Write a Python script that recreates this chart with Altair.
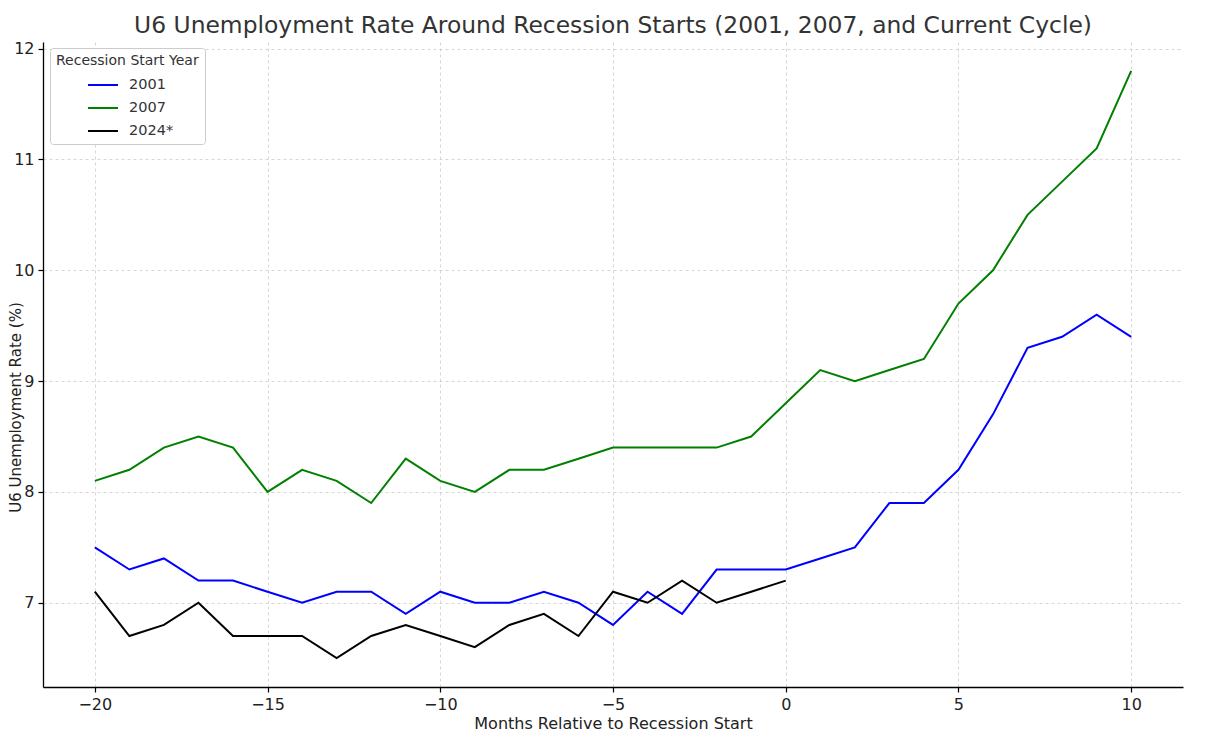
import altair as alt
import pandas as pd

months = list(range(-20, 11))
u6_2001 = [7.5, 7.3, 7.4, 7.2, 7.2, 7.1, 7.0, 7.1, 7.1, 6.9, 7.1, 7.0, 7.0, 7.1, 7.0, 6.8,
           7.1, 6.9, 7.3, 7.3, 7.3, 7.4, 7.5, 7.9, 7.9, 8.2, 8.7, 9.3, 9.4, 9.6, 9.4]
u6_2007 = [8.1, 8.2, 8.4, 8.5, 8.4, 8.0, 8.2, 8.1, 7.9, 8.3, 8.1, 8.0, 8.2, 8.2, 8.3, 8.4,
           8.4, 8.4, 8.4, 8.5, 8.8, 9.1, 9.0, 9.1, 9.2, 9.7, 10.0, 10.5, 10.8, 11.1, 11.8]
u6_2024 = [7.1, 6.7, 6.8, 7.0, 6.7, 6.7, 6.7, 6.5, 6.7, 6.8, 6.7, 6.6, 6.8, 6.9, 6.7, 7.1,
           7.0, 7.2, 7.0, 7.1, 7.2]
series_names = ["2001", "2007", "2024*"]
series_colors = ["#0000ff", "#008000", "#000000"]

rows = []
for name, vals in zip(series_names, [u6_2001, u6_2007, u6_2024]):
    for i, v in enumerate(vals):
        rows.append({"month": months[i], "rate": v, "year": name})
df = pd.DataFrame(rows)

font = "DejaVu Sans"

chart = alt.Chart(df).mark_line(strokeWidth=2, clip=True).encode(
    x=alt.X("month:Q",
            scale=alt.Scale(domain=[-21.5, 11.5], nice=False, zero=False),
            axis=alt.Axis(values=[-20, -15, -10, -5, 0, 5, 10], title="Months Relative to Recession Start",
                          titlePadding=3)),
    y=alt.Y("rate:Q",
            scale=alt.Scale(domain=[6.24, 12.06], nice=False, zero=False),
            axis=alt.Axis(values=[7, 8, 9, 10, 11, 12], title="U6 Unemployment Rate (%)",
                          titleX=-23, titleY=365, titleBaseline="alphabetic", titleAngle=-90,
                          titleFontSize=15)),
    color=alt.Color("year:N",
                    scale=alt.Scale(domain=series_names, range=series_colors),
                    legend=alt.Legend(title="Recession Start Year", orient="none", legendX=7, legendY=6,
                                      symbolType="stroke", symbolSize=900, symbolStrokeWidth=2,
                                      symbolOffset=31, labelOffset=10,
                                      titleFontSize=14, labelFontSize=14.5, titleFontWeight="normal",
                                      titleColor="#333333", labelColor="#333333",
                                      rowPadding=-3, padding=6, titlePadding=1,
                                      strokeColor="#cccccc", fillColor="white", cornerRadius=3)),
    detail="year:N",
    order="month:Q",
).properties(
    width=1140, height=645,
    title=alt.Title("U6 Unemployment Rate Around Recession Starts (2001, 2007, and Current Cycle)",
                    fontSize=23.4, font=font, fontWeight="normal", color="#333333", anchor="middle", offset=2),
    padding={"left": 35, "top": 34, "right": 21, "bottom": 55},
    autosize=alt.AutoSizeParams(type="none"),
).configure_view(stroke=None).configure_axis(
    labelFont=font, titleFont=font, labelFontSize=16, titleFontSize=16,
    labelColor="#222222", titleColor="#222222", titleFontWeight="normal",
    grid=True, gridColor="#cccccc", gridDash=[3, 3], gridWidth=0.8,
    domainColor="#000000", domainWidth=1.3, tickColor="#000000", tickSize=5, tickWidth=1.2,
    labelPadding=4,
).configure_legend(labelFont=font, titleFont=font)

chart.save("out.html", embed_options={"renderer": "svg", "actions": False})
